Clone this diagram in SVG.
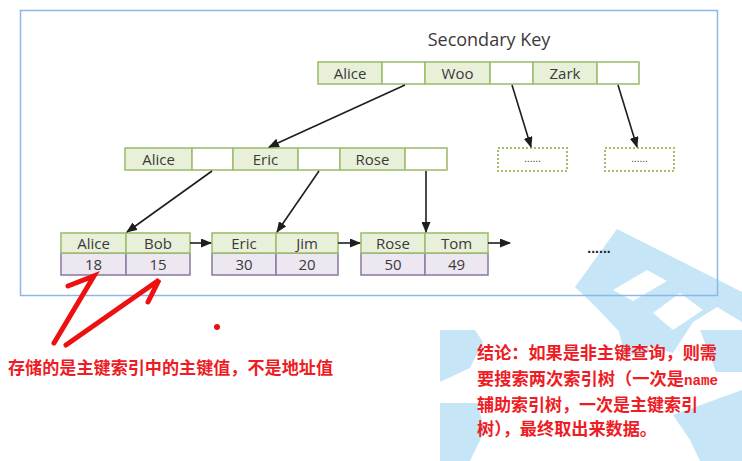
<svg xmlns="http://www.w3.org/2000/svg" width="742" height="461" viewBox="0 0 742 461">
<style>
.wm{fill:#c6e6f7}
.hole{fill:#ffffff}
.key{fill:#e8f0d9;stroke:#9fbf70;stroke-width:1.6}
.ptr{fill:#ffffff;stroke:#9fbf70;stroke-width:1.6}
.val{fill:#ece7f1;stroke:#8f80a2;stroke-width:1.6}
.lbl{font-family:"Open Sans","Noto Sans",sans-serif;font-size:15px;fill:#3a3a3a;text-anchor:middle}
.dash{fill:#ffffff;stroke:#a3bf6a;stroke-width:2;stroke-dasharray:2 2}
.dots{font-family:"Liberation Sans",sans-serif;font-size:10px;fill:#333;text-anchor:middle}
.edge{stroke:#1e1e1e;stroke-width:1.6;fill:none}
.red{font-family:"Noto Sans CJK SC","Noto Sans",sans-serif;font-size:17px;font-weight:bold;fill:#ee1c25}
.mono{font-family:"Liberation Mono",monospace;font-size:14px;font-weight:bold}
.stroke-red{stroke:#ee1010;stroke-width:5;stroke-linecap:round;fill:none}
</style>
<defs>
<marker id="ah" markerUnits="userSpaceOnUse" markerWidth="11" markerHeight="9" refX="10" refY="4.5" orient="auto">
<path d="M0,0 L11,4.5 L0,9 z" fill="#1e1e1e"/>
</marker>
</defs>
<rect width="742" height="461" fill="#ffffff"/>
<g id="watermark">
<polygon class="wm" points="617,229 742,292 742,322 717,307 693,322 673,353 627,340 597,308 575,287"/>
<polygon class="hole" points="613,290 647,270 667,281 633,301"/>
<polygon class="hole" points="653,313 680,293 703,310 673,330"/>
<polygon class="wm" points="440,330 475,330 483,342 470,368 440,382"/>
<polygon class="wm" points="440,403 477,403 485,430 470,461 440,461"/>
<polygon class="wm" points="618,328 642,328 650,352 625,356"/>
<polygon class="wm" points="700,330 742,330 742,372 716,372"/>
<polygon class="wm" points="673,415 742,390 742,461 700,461 690,440"/>
</g>
<rect id="frame" x="20.5" y="10.5" width="697" height="285" fill="none" stroke="#8bb8e6" stroke-width="1.5"/>
<text x="489" y="46" font-family="Open Sans,Noto Sans,sans-serif" font-size="18" fill="#3a3a3a" text-anchor="middle">Secondary Key</text>
<g id="root">
<rect class="key" x="318" y="62" width="64" height="22"/>
<rect class="ptr" x="382" y="62" width="43" height="22"/>
<rect class="key" x="425" y="62" width="65" height="22"/>
<rect class="ptr" x="490" y="62" width="43" height="22"/>
<rect class="key" x="533" y="62" width="64" height="22"/>
<rect class="ptr" x="597" y="62" width="42" height="22"/>
<text class="lbl" x="350" y="78.5">Alice</text>
<text class="lbl" x="457.5" y="78.5">Woo</text>
<text class="lbl" x="565" y="78.5">Zark</text>
</g>
<g id="mid">
<rect class="key" x="125" y="148" width="67" height="22"/>
<rect class="ptr" x="192" y="148" width="41" height="22"/>
<rect class="key" x="233" y="148" width="65" height="22"/>
<rect class="ptr" x="298" y="148" width="42" height="22"/>
<rect class="key" x="340" y="148" width="65" height="22"/>
<rect class="ptr" x="405" y="148" width="42" height="22"/>
<text class="lbl" x="158.5" y="164.5">Alice</text>
<text class="lbl" x="265.5" y="164.5">Eric</text>
<text class="lbl" x="372.5" y="164.5">Rose</text>
</g>
<g id="more1">
<rect class="dash" x="498" y="148" width="69" height="23"/>
<text class="dots" x="532.5" y="162">......</text>
</g>
<g id="more2">
<rect class="dash" x="605" y="148" width="69" height="23"/>
<text class="dots" x="639.5" y="162">......</text>
</g>
<g id="leaf1">
<rect class="val" x="61" y="253" width="65" height="22"/>
<rect class="val" x="126" y="253" width="64" height="22"/>
<rect class="key" x="61" y="233" width="65" height="20"/>
<rect class="key" x="126" y="233" width="64" height="20"/>
<text class="lbl" x="93.5" y="248.5">Alice</text>
<text class="lbl" x="158" y="248.5">Bob</text>
<text class="lbl" x="93.5" y="270">18</text>
<text class="lbl" x="158" y="270">15</text>
</g>
<g id="leaf2">
<rect class="val" x="212" y="253" width="64" height="22"/>
<rect class="val" x="276" y="253" width="62" height="22"/>
<rect class="key" x="212" y="233" width="64" height="20"/>
<rect class="key" x="276" y="233" width="62" height="20"/>
<text class="lbl" x="244" y="248.5">Eric</text>
<text class="lbl" x="307" y="248.5">Jim</text>
<text class="lbl" x="244" y="270">30</text>
<text class="lbl" x="307" y="270">20</text>
</g>
<g id="leaf3">
<rect class="val" x="361" y="253" width="64" height="22"/>
<rect class="val" x="425" y="253" width="63" height="22"/>
<rect class="key" x="361" y="233" width="64" height="20"/>
<rect class="key" x="425" y="233" width="63" height="20"/>
<text class="lbl" x="393" y="248.5">Rose</text>
<text class="lbl" x="456.5" y="248.5">Tom</text>
<text class="lbl" x="393" y="270">50</text>
<text class="lbl" x="456.5" y="270">49</text>
</g>
<text x="599" y="253" font-family="Liberation Sans,sans-serif" font-size="14" font-weight="bold" fill="#222" text-anchor="middle">......</text>
<g id="connectors">
<line class="edge" x1="405" y1="85" x2="269" y2="147" marker-end="url(#ah)"/>
<line class="edge" x1="512" y1="85" x2="531" y2="147" marker-end="url(#ah)"/>
<line class="edge" x1="618" y1="85" x2="637" y2="147" marker-end="url(#ah)"/>
<line class="edge" x1="212" y1="171" x2="127" y2="232" marker-end="url(#ah)"/>
<line class="edge" x1="319" y1="171" x2="277" y2="232" marker-end="url(#ah)"/>
<line class="edge" x1="426" y1="171" x2="426" y2="232" marker-end="url(#ah)"/>
<line class="edge" x1="190" y1="243" x2="211" y2="243" marker-end="url(#ah)"/>
<line class="edge" x1="338" y1="243" x2="360" y2="243" marker-end="url(#ah)"/>
<line class="edge" x1="488" y1="243" x2="510" y2="243" marker-end="url(#ah)"/>
</g>
<g id="annotation-strokes">
<polyline class="stroke-red" points="68,286 94,276 54,343"/>
<polyline class="stroke-red" points="66,345 159,280 148,302"/>
<circle cx="217" cy="327" r="3" fill="#ee1010"/>
</g>
<text class="red" x="8" y="374" textLength="325" lengthAdjust="spacingAndGlyphs">存储的是主键索引中的主键值，不是地址值</text>
<g id="conclusion">
<text class="red" x="477" y="359" textLength="240" lengthAdjust="spacingAndGlyphs">结论：如果是非主键查询，则需</text>
<text class="red" x="477" y="385" textLength="241" lengthAdjust="spacingAndGlyphs">要搜索两次索引树（一次是<tspan class="mono">name</tspan></text>
<text class="red" x="477" y="411" textLength="221" lengthAdjust="spacingAndGlyphs">辅助索引树，一次是主键索引</text>
<text class="red" x="477" y="435" textLength="180" lengthAdjust="spacingAndGlyphs">树），最终取出来数据。</text>
</g>
</svg>
